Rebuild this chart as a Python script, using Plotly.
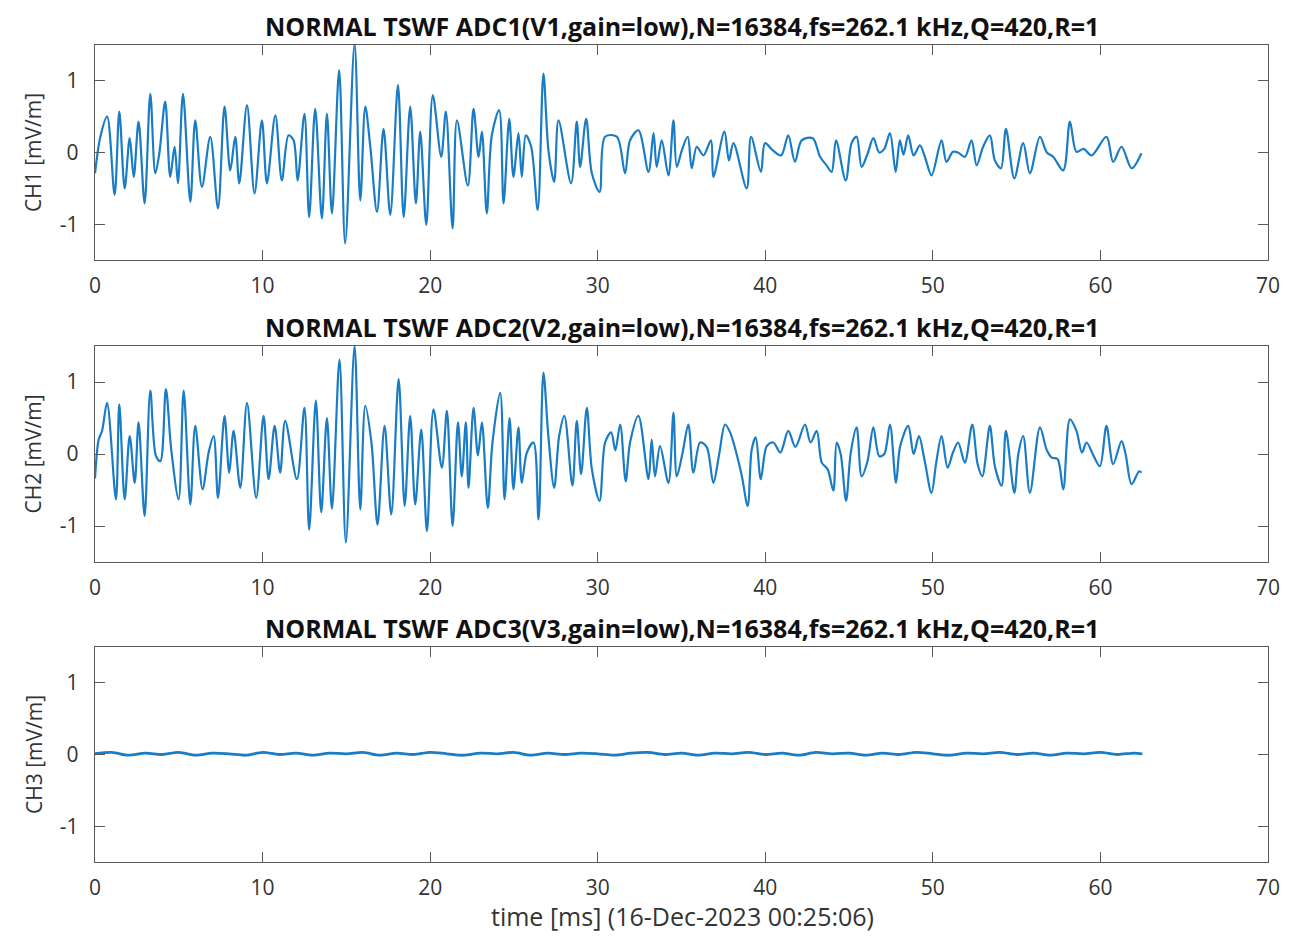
import plotly.graph_objects as go

# ---------------- data ----------------
ch1_t = [0.00, 0.32, 0.72, 1.17, 1.45, 1.77, 2.07, 2.31, 2.60, 2.96, 3.30, 3.60, 3.84, 4.19, 4.49, 4.75, 4.95,
         5.25, 5.69, 5.98, 6.38, 6.88, 7.34, 7.73, 8.07, 8.37, 8.61, 9.07, 9.52, 9.96, 10.26, 10.76, 11.15,
         11.55, 11.85, 12.09, 12.50, 12.78, 13.14, 13.54, 13.84, 14.14, 14.57, 14.93, 15.49, 15.83, 16.13,
         16.43, 16.83, 17.22, 17.62, 18.08, 18.42, 18.81, 19.15, 19.41, 19.77, 20.16, 20.66, 20.94, 21.34,
         21.60, 22.25, 22.59, 22.89, 23.09, 23.38, 23.68, 24.12, 24.38, 24.72, 24.97, 25.27, 25.47, 25.71,
         26.03, 26.42, 26.76, 27.06, 27.40, 27.66, 28.41, 28.75, 28.95, 29.31, 29.65, 30.11, 30.44, 31.14,
         31.63, 31.93, 32.43, 33.03, 33.33, 33.52, 33.82, 34.22, 34.52, 34.72, 35.02, 35.37, 35.61, 35.91,
         36.31, 36.76, 36.90, 37.56, 37.83, 38.10, 38.89, 39.15, 39.74, 39.98, 40.45, 40.95, 41.37, 41.77,
         42.17, 42.83, 43.27, 43.66, 43.96, 44.22, 44.80, 45.15, 45.45, 45.75, 46.10, 46.45, 46.80, 47.10,
         47.44, 47.78, 48.03, 48.25, 48.53, 48.85, 49.23, 49.55, 49.92, 50.52, 50.81, 51.20, 51.50, 51.91,
         52.31, 52.61, 53.00, 53.40, 53.70, 54.06, 54.36, 54.86, 55.39, 55.79, 56.39, 56.80, 57.18, 57.78,
         58.18, 58.57, 59.00, 59.47, 60.36, 60.76, 61.26, 61.86, 62.45]
ch1_v = [-0.29, 0.22, 0.50, -0.59, 0.57, -0.50, 0.20, -0.34, 0.43, -0.71, 0.82, -0.29, -0.01, 0.71, -0.34, 0.08, -0.43,
         0.82, -0.69, 0.45, -0.48, 0.22, -0.78, 0.64, -0.25, 0.22, -0.43, 0.66, -0.57, 0.45, -0.43, 0.52, -0.39,
         0.24, 0.17, -0.39, 0.54, -0.90, 0.61, -0.92, 0.54, -0.85, 1.15, -1.27, 1.52, -0.67, 0.64,
         0.08, -0.83, 0.33, -0.87, 0.94, -0.90, 0.64, -0.71, 0.29, -1.01, 0.80, -0.06, 0.57, -1.06,
         0.45, -0.46, 0.61, -0.06, 0.29, -0.85, 0.24, 0.59, -0.71, 0.47, -0.34, 0.27, -0.34, 0.24,
         0.08, -0.80, 1.10, 0.03, -0.41, 0.45, -0.43, 0.43, -0.20, 0.47, -0.29, -0.55, 0.22, 0.22,
         -0.29, 0.17, 0.31, -0.27, 0.27, -0.20, 0.17, -0.32, 0.45, -0.20, 0.03, 0.22, -0.22, 0.08,
         -0.04, 0.17, -0.34, 0.29, -0.11, 0.13, -0.50, 0.22, -0.27, 0.13, 0.03, -0.04, 0.24, -0.13,
         0.17, 0.20, -0.06, -0.18, -0.27, 0.17, -0.39, 0.13, 0.22, -0.20, -0.02, 0.20, 0.00, 0.05,
         0.27, -0.27, 0.17, -0.03, 0.24, -0.04, 0.10, -0.08, -0.32, 0.17, -0.13, 0.01, 0.00, -0.06,
         0.17, -0.18, 0.08, 0.24, -0.11, -0.22, 0.33, -0.36, 0.13, -0.29, 0.22, 0.00, -0.06, -0.25,
         0.43, 0.01, 0.05, -0.04, 0.22, -0.13, 0.08, -0.22, -0.01]

ch2_t = [0.00, 0.22, 0.42, 0.72, 1.25, 1.45, 1.77, 2.07, 2.37, 2.60, 2.96, 3.30, 3.64, 3.90, 4.23, 4.55, 4.99,
         5.29, 5.69, 5.98, 6.42, 6.78, 7.08, 7.34, 7.73, 8.01, 8.27, 8.67, 9.07, 9.62, 10.06, 10.36, 10.72,
         11.05, 11.35, 12.05, 12.50, 12.78, 13.18, 13.50, 13.84, 14.14, 14.59, 14.97, 15.49, 15.83, 16.13,
         16.50, 16.86, 17.28, 17.68, 18.12, 18.48, 18.81, 19.11, 19.47, 19.81, 20.20, 20.70, 21.00, 21.34,
         21.66, 21.89, 22.13, 22.29, 22.59, 22.85, 23.09, 23.44, 23.72, 24.18, 24.44, 24.74, 24.97, 25.27,
         25.47, 25.77, 26.17, 26.47, 26.76, 27.06, 27.40, 27.70, 28.01, 28.49, 28.75, 29.01, 29.35, 29.65,
         30.11, 30.44, 30.80, 31.05, 31.34, 31.67, 31.93, 32.43, 33.03, 33.22, 33.42, 33.72, 34.22, 34.52,
         34.72, 35.05, 35.41, 35.71, 36.11, 36.50, 36.90, 37.25, 37.60, 37.90, 38.56, 38.95, 39.19, 39.43,
         39.73, 40.09, 40.48, 40.90, 41.37, 41.80, 42.37, 42.70, 43.07, 43.37, 43.72, 44.06, 44.26, 44.50,
         44.82, 45.10, 45.45, 45.75, 46.10, 46.45, 46.80, 47.10, 47.44, 47.80, 48.05, 48.53, 48.85, 49.17,
         49.50, 49.92, 50.20, 50.52, 50.88, 51.20, 51.51, 51.91, 52.35, 52.67, 52.95, 53.40, 53.70, 54.10,
         54.36, 54.86, 55.10, 55.39, 55.79, 56.39, 56.79, 57.10, 57.44, 57.78, 58.18, 58.57, 58.90, 59.17,
         59.60, 59.97, 60.36, 60.76, 61.26, 61.50, 61.86, 62.31, 62.45]
ch2_v = [-0.34, 0.20, 0.32, 0.71, -0.63, 0.69, -0.63, 0.25, -0.40, 0.44, -0.86, 0.88, -0.03, -0.10, 0.90, 0.06, -0.63,
         0.88, -0.70, 0.39, -0.49, 0.02, 0.25, -0.61, 0.53, -0.26, 0.32, -0.47, 0.71, -0.61, 0.53, -0.35, 0.39,
         -0.26, 0.46, -0.35, 0.64, -1.05, 0.74, -0.81, 0.50, -0.76, 1.31, -1.23, 1.50, -0.77, 0.67,
         0.15, -0.98, 0.39, -0.84, 1.04, -0.72, 0.53, -0.70, 0.34, -1.07, 0.62, -0.19, 0.60, -1.00,
         0.44, -0.31, 0.44, -0.47, 0.64, -0.02, 0.44, -0.75, 0.16, 0.85, -0.63, 0.50, -0.49, 0.37,
         -0.40, 0.02, 0.16, -0.91, 1.13, 0.23, -0.47, 0.25, 0.53, -0.44, 0.46, -0.28, 0.64, -0.21,
         -0.65, 0.16, 0.30, 0.05, 0.41, -0.38, 0.16, 0.53, -0.35, 0.20, -0.31, 0.11, -0.40, 0.57,
         -0.31, 0.00, 0.41, -0.26, 0.16, 0.10, -0.40, 0.00, 0.41, 0.30, -0.26, -0.72, 0.06, 0.23,
         -0.35, 0.11, 0.16, 0.02, 0.32, 0.10, 0.41, 0.16, 0.32, -0.12, -0.21, -0.51, 0.16, 0.00,
         -0.65, 0.02, 0.37, -0.31, -0.10, 0.37, -0.03, 0.00, 0.41, -0.40, 0.11, 0.39, 0.00, 0.25,
         -0.08, -0.54, -0.12, 0.25, -0.19, 0.02, 0.16, -0.12, 0.41, -0.14, -0.31, 0.39, -0.17, -0.44,
         0.32, -0.54, 0.00, 0.25, -0.54, 0.37, 0.06, -0.05, -0.07, -0.49, 0.48, 0.32, 0.02, 0.16,
         -0.03, -0.17, 0.39, -0.14, 0.18, 0.00, -0.42, -0.24, -0.26]

ch3_t = [0, 1, 2, 3, 4, 5, 6, 7, 8, 9, 10, 11, 12, 13, 14, 15, 16, 17, 18, 19, 20, 21, 22, 23, 24, 25, 26, 27,
         28, 29, 30, 31, 32, 33, 34, 35, 36, 37, 38, 39, 40, 41, 42, 43, 44, 45, 46, 47, 48, 49, 50, 51, 52, 53,
         54, 55, 56, 57, 58, 59, 60, 61, 62, 62.5]
ch3_v = [0.01, 0.03, -0.01, 0.02, 0.00, 0.03, -0.01, 0.02, 0.01, -0.01, 0.03, 0.00, 0.02, -0.01, 0.02, 0.01,
         0.03, -0.01, 0.02, 0.00, 0.03, 0.01, -0.01, 0.02, 0.01, 0.03, -0.01, 0.02, 0.00, 0.02, 0.01, -0.01,
         0.02, 0.03, 0.00, 0.02, -0.01, 0.02, 0.01, 0.03, 0.00, 0.02, -0.01, 0.03, 0.01, 0.02, -0.01, 0.02,
         0.00, 0.03, 0.01, -0.01, 0.02, 0.01, 0.03, 0.00, 0.02, -0.01, 0.02, 0.01, 0.03, 0.00, 0.02, 0.01]

titles = ["NORMAL TSWF ADC1(V1,gain=low),N=16384,fs=262.1 kHz,Q=420,R=1",
          "NORMAL TSWF ADC2(V2,gain=low),N=16384,fs=262.1 kHz,Q=420,R=1",
          "NORMAL TSWF ADC3(V3,gain=low),N=16384,fs=262.1 kHz,Q=420,R=1"]
ylabels = ["CH1 [mV/m]", "CH2 [mV/m]", "CH3 [mV/m]"]
xlabel = "time [ms] (16-Dec-2023 00:25:06)"
x_ticks = [0, 10, 20, 30, 40, 50, 60, 70]
y_ticks = [-1, 0, 1]
y_ticktext = ["-1", "0", "1"]

# ---------------- figure ----------------
OFF = 8                      # page body margin of the html page
W, H = 1290 - OFF, 937 - OFF
ML, MR, MT, MB = 94.6 - OFF, 22, 45 - OFF, 75
PH = H - MT - MB
PW = W - ML - MR

def py2paper(py):            # py: page pixel (from top) of the reference
    return (H - MB - (py - OFF)) / PH

def px2paper(px):
    return ((px - OFF) - ML) / PW

panels = [(45, 260), (346, 562), (647, 862)]
series = [(ch1_t, ch1_v), (ch2_t, ch2_v), (ch3_t, ch3_v)]
widths = [2.2, 2.2, 2.8]
title_y = [26, 327, 628]

LINE = "#1a7cc4"
AX = "#5a5a5a"
FONT = "Open Sans, Noto Sans, DejaVu Sans, sans-serif"

fig = go.Figure()
for i, ((t, v), (top, bot)) in enumerate(zip(series, panels)):
    n = "" if i == 0 else str(i + 1)
    fig.add_trace(go.Scatter(x=t, y=v, mode="lines", xaxis="x" + n, yaxis="y" + n,
                             line=dict(color=LINE, width=widths[i], shape="spline", smoothing=0.9),
                             showlegend=False, hoverinfo="skip"))
    common = dict(showline=True, linecolor=AX, linewidth=1.4, mirror="ticks",
                  ticks="inside", ticklen=10, tickwidth=1.2, tickcolor=AX,
                  showgrid=False, zeroline=False,
                  tickfont=dict(family=FONT, size=21, color="#333333"))
    fig.update_layout(**{
        "xaxis" + n: dict(common, domain=[0, 1], range=[0, 70], tickvals=x_ticks,
                          anchor="y" + n, ticklabelstandoff=7),
        "yaxis" + n: dict(common, domain=[py2paper(bot), py2paper(top)], range=[-1.5, 1.5],
                          tickvals=y_ticks, ticktext=y_ticktext, anchor="x" + n,
                          ticklabelstandoff=11),
    })
    fig.add_annotation(text="<b>" + titles[i] + "</b>", xref="paper", yref="paper",
                       x=px2paper(682), y=py2paper(title_y[i]), xanchor="center", yanchor="middle",
                       showarrow=False, font=dict(family=FONT, size=25, color="#111111"))
    fig.add_annotation(text=ylabels[i], xref="paper", yref="paper", textangle=-90,
                       x=px2paper(33), y=py2paper((top + bot) / 2), xanchor="center", yanchor="middle",
                       showarrow=False, font=dict(family=FONT, size=21, color="#333333"))

fig.add_annotation(text=xlabel, xref="paper", yref="paper",
                   x=px2paper(682), y=py2paper(916), xanchor="center", yanchor="middle",
                   showarrow=False, font=dict(family=FONT, size=25, color="#333333"))

fig.update_layout(width=W, height=H, margin=dict(l=ML, r=MR, t=MT, b=MB, autoexpand=False),
                  paper_bgcolor="white", plot_bgcolor="white")

fig.write_html("out.html")
